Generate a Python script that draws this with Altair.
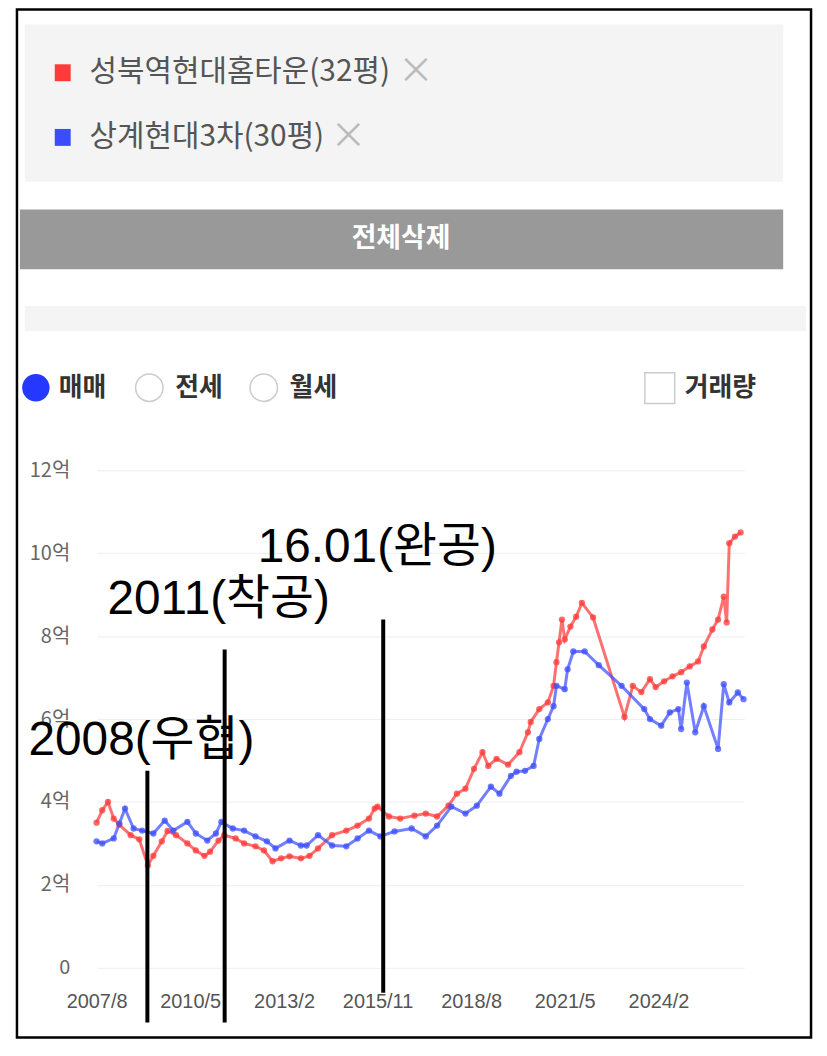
import altair as alt
import pandas as pd

# ---------------- data ----------------
red_name = "성북역현대홈타운(32평)"
blue_name = "상계현대3차(30평)"
red_color = "#ff3a3a"
blue_color = "#3c4dff"

red_months = ["2007-08","2007-10","2007-12","2008-02","2008-04","2008-08","2008-11","2009-02","2009-04","2009-07",
              "2009-09","2009-12","2010-04","2010-07","2010-10","2010-12","2011-03","2011-05","2011-09","2011-12",
              "2012-04","2012-07","2012-10","2013-01","2013-04","2013-08","2013-11","2014-02","2014-07","2014-12",
              "2015-04","2015-08","2015-10","2015-11","2016-03","2016-07","2016-12","2017-04","2017-08","2017-12",
              "2018-03","2018-06","2018-09","2018-12","2019-02","2019-05","2019-09","2020-01","2020-04","2020-05",
              "2020-08","2020-11","2021-01","2021-02","2021-03","2021-04","2021-05","2021-07","2021-09","2021-11",
              "2022-03","2023-02","2023-05","2023-08","2023-11","2024-01","2024-04","2024-07","2024-10","2025-01",
              "2025-04","2025-06","2025-09","2025-11","2026-01","2026-02","2026-03","2026-05","2026-07"]
red_values = [3.5,3.8,4.0,3.6,3.45,3.2,3.1,2.47,2.7,3.05,
              3.3,3.2,3.0,2.83,2.7,2.8,3.07,3.2,3.12,3.0,
              2.93,2.83,2.57,2.64,2.69,2.64,2.7,2.88,3.2,3.31,
              3.43,3.6,3.84,3.89,3.65,3.6,3.67,3.72,3.65,3.91,
              4.2,4.32,4.8,5.2,4.87,5.04,4.9,5.2,5.68,5.93,
              6.24,6.4,6.8,7.37,7.85,8.4,7.92,8.23,8.47,8.8,
              8.45,6.05,6.8,6.65,6.96,6.77,6.91,7.03,7.13,7.27,
              7.39,7.75,8.16,8.4,8.95,8.33,10.24,10.4,10.5]

blue_months = ["2007-08","2007-10","2008-02","2008-04","2008-06","2008-09","2008-12","2009-04","2009-08","2009-11",
               "2010-04","2010-07","2010-11","2011-02","2011-04","2011-08","2011-12","2012-04","2012-08","2012-11",
               "2013-04","2013-08","2013-10","2014-02","2014-07","2014-12","2015-04","2015-08","2015-12","2016-05",
               "2016-11","2017-04","2017-08","2018-01","2018-06","2018-10","2019-03","2019-06","2019-10","2019-12",
               "2020-03","2020-06","2020-08","2020-11","2021-01","2021-02","2021-05","2021-06","2021-08","2021-12",
               "2022-05","2023-01","2023-09","2023-11","2024-03","2024-06","2024-09","2024-10","2024-12","2025-03",
               "2025-06","2025-11","2026-01","2026-03","2026-06","2026-08"]
blue_values = [3.05,3.0,3.12,3.48,3.84,3.36,3.31,3.24,3.55,3.31,
               3.52,3.24,3.07,3.24,3.52,3.36,3.31,3.17,3.05,2.88,
               3.07,2.95,2.95,3.2,2.95,2.93,3.12,3.31,3.17,3.29,
               3.36,3.17,3.43,3.89,3.72,3.91,4.37,4.2,4.63,4.73,
               4.75,4.87,5.52,6.0,6.31,6.8,6.72,7.2,7.63,7.63,
               7.3,6.8,6.24,6.0,5.84,6.16,6.24,5.76,6.88,5.68,
               6.31,5.28,6.84,6.4,6.64,6.48]

x_tick_labels = ["2007/8", "2010/5", "2013/2", "2015/11", "2018/8", "2021/5", "2024/2"]
y_ticks = [0, 2, 4, 6, 8, 10, 12]

event_labels = ["2008(우협)", "2011(착공)", "16.01(완공)"]
event_dates = ["2009-01-27", "2011-05-06", "2016-01-01"]
event_tops = [4.75, 7.68, 8.4]
event_bottoms = [-1.32, -1.32, -0.6]
event_label_values = [5.47, 8.88, 10.13]

# ---------------- tables ----------------
series = pd.concat([
    pd.DataFrame({"date": pd.to_datetime(red_months, format="%Y-%m"), "price": red_values, "series": red_name}),
    pd.DataFrame({"date": pd.to_datetime(blue_months, format="%Y-%m"), "price": blue_values, "series": blue_name}),
], ignore_index=True)

events = pd.DataFrame({
    "date": pd.to_datetime(event_dates),
    "top": event_tops,
    "bottom": event_bottoms,
    "label": event_labels,
    "label_y": event_label_values,
})

tick_dates = [alt.DateTime(year=int(s.split("/")[0]), month=int(s.split("/")[1]), date=1) for s in x_tick_labels]

KR = "Noto Sans CJK KR"

x_scale = alt.Scale(domain=[alt.DateTime(year=2007, month=8, date=1), alt.DateTime(year=2026, month=8, date=10)])
y_scale = alt.Scale(domain=[0, 12], nice=False)
color_scale = alt.Scale(domain=[red_name, blue_name], range=[red_color, blue_color])

base = alt.Chart(series).encode(
    x=alt.X("date:T", scale=x_scale,
            axis=alt.Axis(values=tick_dates, format="%Y/%-m", title=None, domain=False, ticks=False,
                          grid=False, labelFont="Liberation Sans", labelFontSize=20, labelColor="#555",
                          labelPadding=24, labelOverlap=False, labelFlush=False)),
    y=alt.Y("price:Q", scale=y_scale,
            axis=alt.Axis(values=y_ticks, labelExpr="datum.value == 0 ? '0' : datum.value + '억'",
                          title=None, domain=False, ticks=False, grid=True, gridColor="#eeeeee",
                          labelFont=KR, labelFontSize=20, labelColor="#666", labelPadding=27)),
    color=alt.Color("series:N", scale=color_scale, legend=None),
    detail="series:N",
)
lines = base.mark_line(strokeWidth=3, opacity=0.72)
points = base.mark_circle(size=40, opacity=0.75)

rules = alt.Chart(events).mark_rule(color="black", strokeWidth=4).encode(
    x=alt.X("date:T", scale=x_scale), y=alt.Y("top:Q", scale=y_scale), y2="bottom:Q")
labels = alt.Chart(events).mark_text(font="Liberation Sans, Noto Sans CJK KR", fontSize=48, color="black",
                                     align="center", baseline="middle", dx=-6).encode(
    x=alt.X("date:T", scale=x_scale), y=alt.Y("label_y:Q", scale=y_scale), text="label:N")

# ---------------- page decorations (pixel positions, relative to the plot area) ----------------
dummy = pd.DataFrame({"k": [0]})

def px_rect(x1, x2, y1, y2, **mark):
    return alt.Chart(dummy).mark_rect(**mark).encode(
        x=alt.value(x1), x2=alt.value(x2), y=alt.value(y1), y2=alt.value(y2))

def px_text(x, y, s, **mark):
    return alt.Chart(dummy).mark_text(baseline="middle", **mark).encode(
        x=alt.value(x), y=alt.value(y), text=alt.value(s))

def px_point(x, y, **mark):
    return alt.Chart(dummy).mark_point(shape="circle", **mark).encode(x=alt.value(x), y=alt.value(y))

deco = [
    px_rect(-72, 690, -448, -290, color="#f4f4f4"),
    px_rect(-42, -26, -408, -391, color=red_color),
    px_text(-7, -400, red_name, align="left", font=KR, fontSize=30, color="#555"),
    px_text(321, -400, "×", align="center", font=KR, fontSize=36, color="#bbbbbb"),
    px_rect(-42, -26, -343, -326, color=blue_color),
    px_text(-7, -335, blue_name, align="left", font=KR, fontSize=30, color="#555"),
    px_text(253, -335, "×", align="center", font=KR, fontSize=36, color="#bbbbbb"),
    px_rect(-77, 690, -262, -202, color="#999999"),
    px_text(306, -232, "전체삭제", align="center", font=KR, fontSize=27, fontWeight="bold", color="white"),
    px_rect(-72, 713, -165, -140, color="#f4f4f4"),
    px_point(-61, -83, size=760, filled=True, color="#2538ff", opacity=1),
    px_text(-38, -83, "매매", align="left", font=KR, fontSize=26, fontWeight="bold", color="#333"),
    px_point(53, -83, size=760, filled=False, color="#cccccc", strokeWidth=1.5, opacity=1),
    px_text(79, -83, "전세", align="left", font=KR, fontSize=26, fontWeight="bold", color="#333"),
    px_point(168, -83, size=760, filled=False, color="#cccccc", strokeWidth=1.5, opacity=1),
    px_text(194, -83, "월세", align="left", font=KR, fontSize=26, fontWeight="bold", color="#333"),
    px_rect(551, 581, -98, -67, fill="white", stroke="#cccccc", strokeWidth=1.5),
    px_text(591, -83, "거래량", align="left", font=KR, fontSize=26, fontWeight="bold", color="#333"),
]

frame = alt.Chart(dummy).mark_rect(fillOpacity=0, stroke="black", strokeWidth=2.5).encode(
    x=alt.value(-80), x2=alt.value(718), y=alt.value(-463), y2=alt.value(570))

chart = alt.layer(*deco, lines, points, rules, labels, frame).properties(
    width=651, height=500,
    autosize=alt.AutoSizeParams(type="none"),
    padding={"left": 89, "top": 462, "right": 75, "bottom": 72},
).configure_view(stroke=None)

chart.save("out.html", embed_options={"renderer": "svg", "actions": False})
